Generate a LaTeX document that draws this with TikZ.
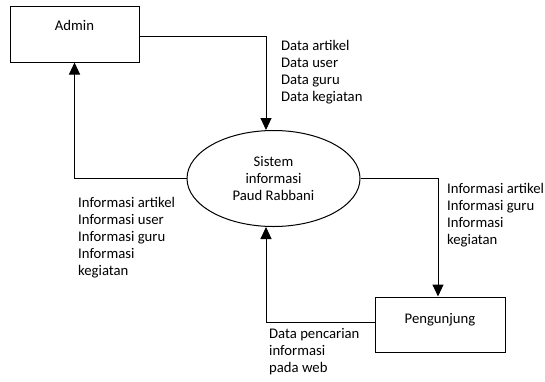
\documentclass[tikz,border=0pt]{standalone}
\usepackage{fontspec}
\setmainfont{Carlito}
\usetikzlibrary{arrows.meta,positioning,shapes.geometric}

\begin{document}
\begin{tikzpicture}[x=1pt,y=-1pt,font=\fontsize{14.7}{16.9}\selectfont,
  >={Triangle[length=12pt,width=11pt]},
  entity/.style={draw,line width=1pt,minimum width=129pt,inner sep=0pt},
  flow/.style={->,line width=1pt},
  flowlabel/.style={align=left,anchor=base west,inner sep=0pt}]

\useasboundingbox[fill=white] (0,0) rectangle (545,381);

% External entities and the process
\node[entity,minimum height=56pt,text height=9pt,text depth=17pt] (admin) at (74.5,34) {Admin};
\node[entity,minimum width=130pt,minimum height=55pt,text height=9pt,text depth=12pt]
  (pengunjung) at (440,324.5) {Pengunjung};
\node[draw,ellipse,line width=1pt,minimum width=173pt,minimum height=96pt,
  inner sep=0pt,align=center] (sistem) at (273.5,178.5) {Sistem\\informasi\\Paud Rabbani};
\coordinate (tap) at (266,0);

% Data flows
\draw[flow] ([yshift=-2pt]admin.east) -| (sistem.north -| tap);
\draw[flow] (sistem.west) -| (admin.south);
\draw[flow] (sistem.east) -| ([xshift=-2pt]pengunjung.north);
\draw[flow] ([yshift=2.5pt]pengunjung.west) -| (sistem.south -| tap);

% Flow labels (placed at the baseline of their last line)
\node[flowlabel] (data-admin) at (281,101) {Data artikel\\Data user\\Data guru\\Data kegiatan};
\node[flowlabel] (info-admin) at (78,275)
  {Informasi artikel\\Informasi user\\Informasi guru\\Informasi\\kegiatan};
\node[flowlabel] (info-pengunjung) at (447,244)
  {Informasi artikel\\Informasi guru\\Informasi\\kegiatan};
\node[flowlabel] (data-cari) at (269,372) {Data pencarian\\informasi\\pada web};

\end{tikzpicture}
\end{document}
